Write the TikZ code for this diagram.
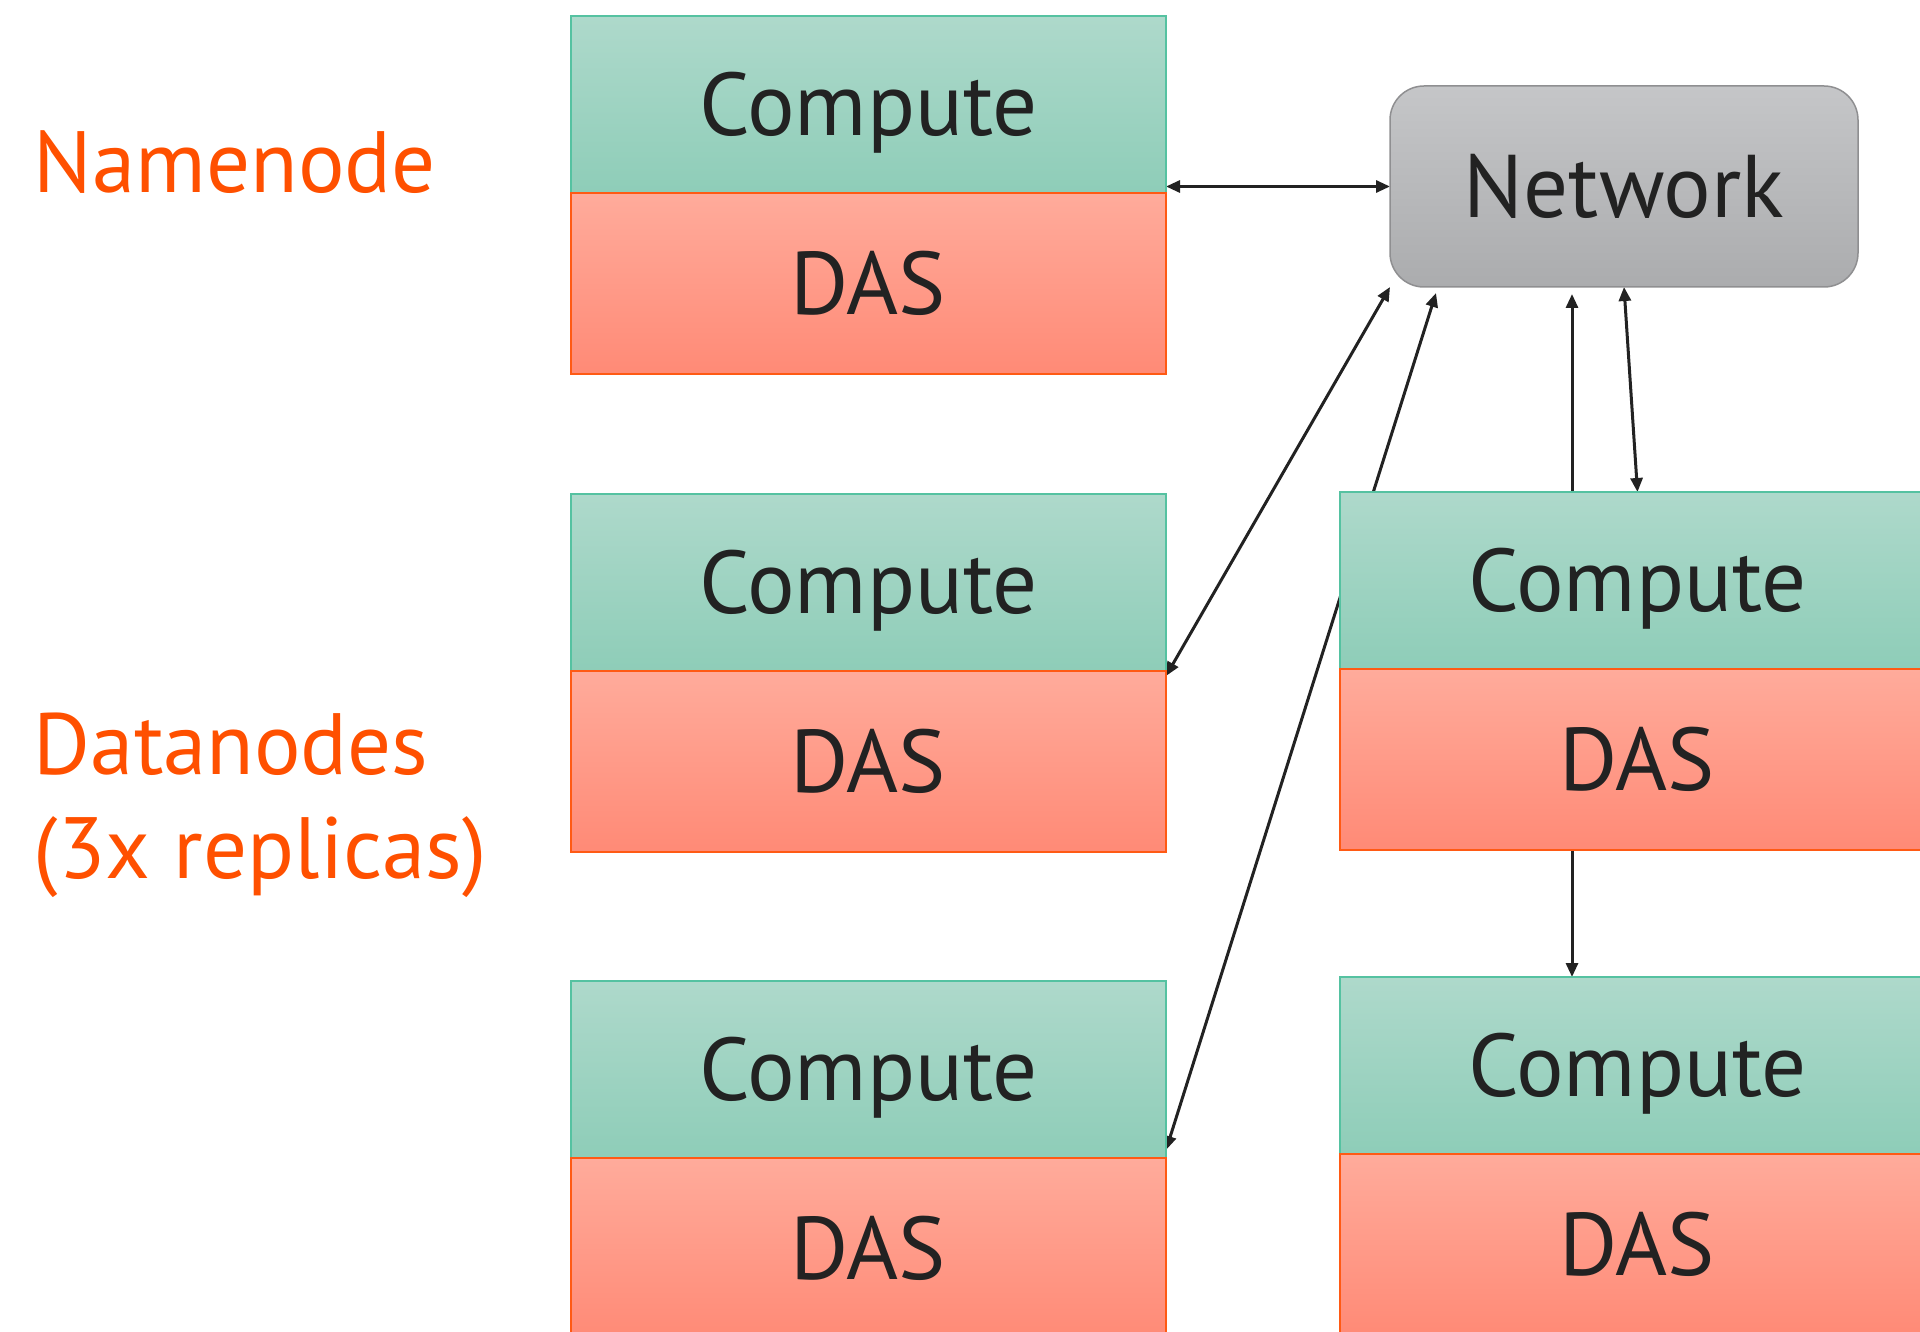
\documentclass[tikz,border=0pt]{standalone}
\usepackage{fontspec}
\setmainfont{PT Sans}
\usetikzlibrary{arrows.meta,calc}

\definecolor{computeTop}{HTML}{AED9CB}
\definecolor{computeBot}{HTML}{8ECDB8}
\definecolor{computeLine}{HTML}{55C2A1}
\definecolor{dasTop}{HTML}{FFAB9B}
\definecolor{dasBot}{HTML}{FF8A76}
\definecolor{dasLine}{HTML}{FF5A14}
\definecolor{netTop}{HTML}{C5C6C8}
\definecolor{netBot}{HTML}{ABACAE}
\definecolor{netLine}{HTML}{8F8F91}
\definecolor{inkDark}{HTML}{222222}
\definecolor{labelOrange}{HTML}{FF5000}

\pgfdeclarelayer{bg}
\pgfsetlayers{bg,main}

\tikzset{
  bigtext/.style={font=\fontsize{87}{104}\selectfont},
  blocktext/.style={font=\fontsize{89}{104}\selectfont},
  block/.style={blocktext, text=inkDark, inner sep=0pt, outer sep=0pt,
    text height=62pt, text depth=0pt, minimum width=595pt},
  computebox/.style={block, draw=computeLine, line width=1.5pt,
    top color=computeTop, bottom color=computeBot, minimum height=177pt},
  dasbox/.style={block, draw=dasLine, line width=1.8pt,
    top color=dasTop, bottom color=dasBot, minimum height=181pt},
  netbox/.style={block, draw=netLine, line width=1.5pt, rounded corners=34pt,
    top color=netTop, bottom color=netBot, minimum width=468pt, minimum height=201pt},
  sidelabel/.style={bigtext, text=labelOrange, inner sep=0pt, outer sep=0pt, align=left},
  conn/.style={draw=inkDark, line width=3pt,
    {Triangle[length=14pt,width=12pt]}-{Triangle[length=14pt,width=12pt]}}
}

\begin{document}
\begin{tikzpicture}[x=1pt,y=-1pt]
  \useasboundingbox (0,0) rectangle (1920,1332);
  \clip (0,0) rectangle (1920,1332);

  % namenode
  \node[computebox, anchor=north west] (nnC) at (571,16) {Compute};
  \node[dasbox, anchor=north] (nnD) at (nnC.south) {DAS};

  % datanodes, left column
  \node[computebox, anchor=north west] (dl1C) at (571,494) {Compute};
  \node[dasbox, anchor=north] (dl1D) at (dl1C.south) {DAS};
  \node[computebox, anchor=north west] (dl2C) at (571,981) {Compute};
  \node[dasbox, anchor=north] (dl2D) at (dl2C.south) {DAS};

  % datanodes, right column
  \node[computebox, anchor=north west] (dr1C) at (1340,492) {Compute};
  \node[dasbox, anchor=north] (dr1D) at (dr1C.south) {DAS};
  \node[computebox, anchor=north west] (dr2C) at (1340,977) {Compute};
  \node[dasbox, anchor=north] (dr2D) at (dr2C.south) {DAS};

  % network switch
  \node[netbox, anchor=north west] (net) at (1390,86) {Network};

  % role labels (base anchor sits on the last line)
  \node[sidelabel, anchor=base west] (lblName) at (34,193) {Namenode};
  \node[sidelabel, anchor=base west] (lblData) at (34,878) {Datanodes\\(3x replicas)};

  % links, kept behind the boxes
  \begin{pgfonlayer}{bg}
    \draw[conn] (net.west -| nnC.east) -- (net.west);
    \draw[conn] ($(dl1C.south east)+(0,5)$) -- (net.south west);
    \draw[conn] ($(dl2C.south east)+(0,-8)$) -- ($(net.south west)+(46,6)$);
    \draw[conn] ($(dr2C.north west)+(232,0)$) -- ($(net.south west)+(182,7)$);
    \draw[conn] (dr1C.north) -- (net.south);
  \end{pgfonlayer}
\end{tikzpicture}
\end{document}
